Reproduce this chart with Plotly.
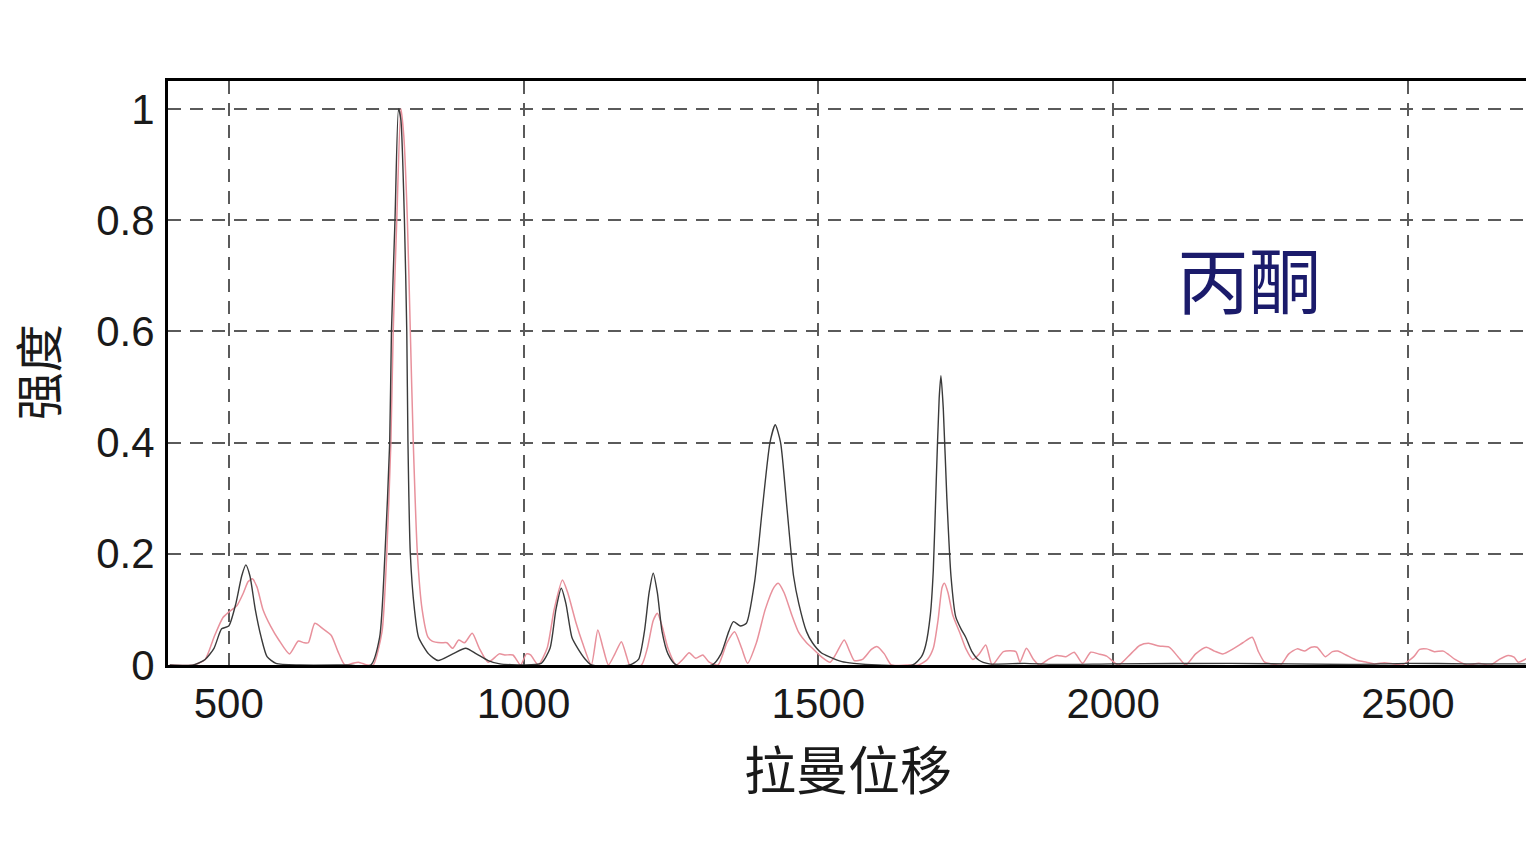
import plotly.graph_objects as go

# Raman shift (cm^-1) and normalized intensity
black_x = [400, 440, 460, 475, 488, 500, 512, 522, 529, 536, 545, 555, 565, 580, 620, 700,
           741, 756, 765, 773, 776, 782, 788, 792, 798, 802, 804, 808, 815, 822, 839, 855,
           880, 902, 920, 940, 960, 1000, 1030, 1045, 1055, 1064, 1072, 1082, 1092, 1105, 1115,
           1180, 1195, 1205, 1213, 1220, 1227, 1235, 1245, 1259, 1320, 1335, 1348, 1356, 1368,
           1378, 1392, 1405, 1418, 1427, 1436, 1447, 1458, 1467, 1480, 1490, 1505, 1518, 1540,
           1560, 1600, 1660, 1675, 1682, 1690, 1695, 1700, 1705, 1708, 1712, 1718, 1725, 1733,
           1742, 1750, 1760, 1772, 1790, 1850, 1900, 2000, 2200, 2400, 2500, 2600, 2700]
black_y = [0.0, 0.0, 0.01, 0.03, 0.065, 0.07, 0.11, 0.16, 0.18, 0.16, 0.10, 0.05, 0.015, 0.003, 0.0, 0.0,
           0.0, 0.05, 0.2, 0.4, 0.6, 0.8, 1.0, 0.98, 0.8, 0.6, 0.4, 0.2, 0.1, 0.05, 0.02, 0.008,
           0.02, 0.03, 0.02, 0.008, 0.002, 0.0, 0.003, 0.03, 0.1, 0.138, 0.11, 0.05, 0.03, 0.01, 0.0,
           0.0, 0.01, 0.06, 0.13, 0.165, 0.13, 0.06, 0.02, 0.0, 0.0, 0.02, 0.06, 0.078, 0.07,
           0.075, 0.15, 0.28, 0.40, 0.432, 0.40, 0.28, 0.16, 0.11, 0.06, 0.04, 0.022, 0.015, 0.006,
           0.003, 0.0, 0.0, 0.015, 0.035, 0.09, 0.17, 0.33, 0.48, 0.52, 0.46, 0.3, 0.16, 0.087,
           0.065, 0.05, 0.025, 0.009, 0.002, 0.003, 0.001, 0.002, 0.003, 0.001, 0.003, 0.002, 0.002]

pink_x = [400, 440, 460, 475, 490, 500, 514, 525, 533, 540, 548, 558, 571, 585, 603, 618,
          628, 635, 646, 660, 674, 685, 697, 710, 720, 735,
          745, 760, 768, 775, 779, 785, 792, 797, 803, 808, 813, 820, 828, 838, 845, 860,
          870, 880, 890, 900, 913, 925, 940, 959, 968, 982, 995, 1005, 1012, 1025,
          1040, 1052, 1066, 1075, 1089, 1100, 1115, 1126, 1135, 1144, 1155, 1166, 1175, 1180,
          1200, 1210, 1220, 1227, 1235, 1245, 1259, 1270, 1281, 1292, 1304, 1315, 1330, 1345,
          1358, 1370, 1380, 1395, 1410, 1425, 1432, 1442, 1455, 1467, 1480, 1490, 1505, 1520,
          1530, 1544, 1553, 1561, 1575, 1590, 1600, 1612, 1624, 1650, 1670, 1685, 1695, 1703,
          1710, 1714, 1720, 1728, 1740, 1750, 1762, 1773, 1784, 1795, 1814, 1835, 1842, 1853,
          1865, 1875, 1890, 1905, 1920, 1934, 1948, 1962, 1975, 1989, 2009, 2030, 2045, 2060,
          2078, 2095, 2110, 2123, 2140, 2158, 2172, 2186, 2205, 2220, 2236, 2246, 2257, 2270,
          2284, 2298, 2312, 2325, 2336, 2346, 2360, 2372, 2381, 2395, 2415, 2430, 2443, 2460,
          2475, 2490, 2510, 2520, 2532, 2545, 2560, 2570, 2580, 2601, 2620, 2640, 2655, 2670,
          2680, 2687, 2702]
pink_y = [0.0, 0.0, 0.01, 0.05, 0.085, 0.095, 0.107, 0.13, 0.15, 0.155, 0.14, 0.1, 0.07, 0.045, 0.02, 0.043,
          0.04, 0.04, 0.075, 0.065, 0.053, 0.025, 0.0, 0.003, 0.005, 0.0,
          0.0, 0.06, 0.2, 0.4, 0.6, 0.8, 1.0, 0.95, 0.8, 0.6, 0.4, 0.2, 0.1, 0.05, 0.043, 0.04,
          0.04, 0.03, 0.045, 0.04, 0.057, 0.03, 0.005, 0.02, 0.018, 0.018, 0.0, 0.02, 0.018, 0.0,
          0.03, 0.1, 0.153, 0.13, 0.076, 0.04, 0.0, 0.063, 0.03, 0.0, 0.02, 0.042, 0.015, 0.0,
          0.0, 0.03, 0.08, 0.093, 0.07, 0.03, 0.0, 0.01, 0.022, 0.012, 0.018, 0.005, 0.0, 0.04,
          0.06, 0.03, 0.003, 0.04, 0.1, 0.14, 0.147, 0.13, 0.09, 0.058, 0.04, 0.03, 0.015, 0.005,
          0.02, 0.045, 0.025, 0.008, 0.01, 0.028, 0.033, 0.02, 0.0, 0.0, 0.0, 0.01, 0.03, 0.08,
          0.14, 0.147, 0.13, 0.09, 0.058, 0.03, 0.01, 0.02, 0.036, 0.0, 0.024, 0.024, 0.005, 0.03,
          0.01, 0.0, 0.01, 0.017, 0.015, 0.023, 0.003, 0.023, 0.02, 0.016, 0.0, 0.02, 0.035, 0.039,
          0.034, 0.032, 0.015, 0.0, 0.02, 0.032, 0.025, 0.02, 0.03, 0.04, 0.05, 0.025, 0.005, 0.002,
          0.0, 0.02, 0.029, 0.025, 0.032, 0.032, 0.015, 0.024, 0.025, 0.018, 0.008, 0.005, 0.002, 0.004,
          0.002, 0.0, 0.015, 0.028, 0.029, 0.024, 0.025, 0.018, 0.01, 0.0, 0.003, 0.0, 0.01, 0.017,
          0.014, 0.005, 0.012]

x_ticks = [500, 1000, 1500, 2000, 2500]
y_ticks = [0, 0.2, 0.4, 0.6, 0.8, 1]
y_tick_labels = ["0", "0.2", "0.4", "0.6", "0.8", "1"]

x_title = "拉曼位移"
y_title = "强度"
label_text = "丙酮"

fig = go.Figure()
fig.add_trace(go.Scatter(x=pink_x, y=pink_y, mode="lines",
                         line=dict(color="#e8919c", width=1.5, shape="spline", smoothing=0.6),
                         showlegend=False))
fig.add_trace(go.Scatter(x=black_x, y=black_y, mode="lines",
                         line=dict(color="#3a3a3a", width=1.4, shape="spline", smoothing=0.6),
                         showlegend=False))

fig.add_annotation(x=2230, y=0.698, xref="x", yref="y", text=label_text, showarrow=False,
                   xanchor="center", yanchor="middle",
                   font=dict(family="Noto Sans CJK SC", size=72, color="#1b1b6b", weight=400))
fig.add_annotation(x=0.5004, y=-0.176, xref="paper", yref="paper", text=x_title, showarrow=False,
                   xanchor="center", yanchor="middle",
                   font=dict(family="Noto Sans CJK SC", size=52, color="#1a1a1a"))
fig.add_annotation(x=-0.097, y=0.5017, xref="paper", yref="paper", text=y_title, showarrow=False,
                   textangle=-90, xanchor="center", yanchor="middle",
                   font=dict(family="Noto Sans CJK SC", size=48, color="#1a1a1a"))

fig.update_layout(
    width=1526, height=856,
    margin=dict(l=160, r=7, t=73, b=199, autoexpand=False),
    paper_bgcolor="white", plot_bgcolor="white",
    font=dict(family="Liberation Sans", size=40, color="#1a1a1a"),
)
fig.update_xaxes(range=[397, 2702], tickvals=x_ticks, showgrid=True, automargin=False,
                 gridcolor="#5a5a5a", gridwidth=1.5, griddash="13px,9px",
                 showline=True, linecolor="black", linewidth=3, mirror=True,
                 zeroline=False, ticks="", ticklabelstandoff=0,
                 tickfont=dict(family="Liberation Sans", size=42))
fig.update_yaxes(range=[0, 1.05], tickvals=y_ticks, ticktext=y_tick_labels, showgrid=True,
                 automargin=False,
                 gridcolor="#5a5a5a", gridwidth=1.5, griddash="13px,9px",
                 showline=True, linecolor="black", linewidth=3, mirror=True,
                 zeroline=False, ticks="", ticklabelstandoff=2,
                 tickfont=dict(family="Liberation Sans", size=42))

fig.write_html("out.html")
